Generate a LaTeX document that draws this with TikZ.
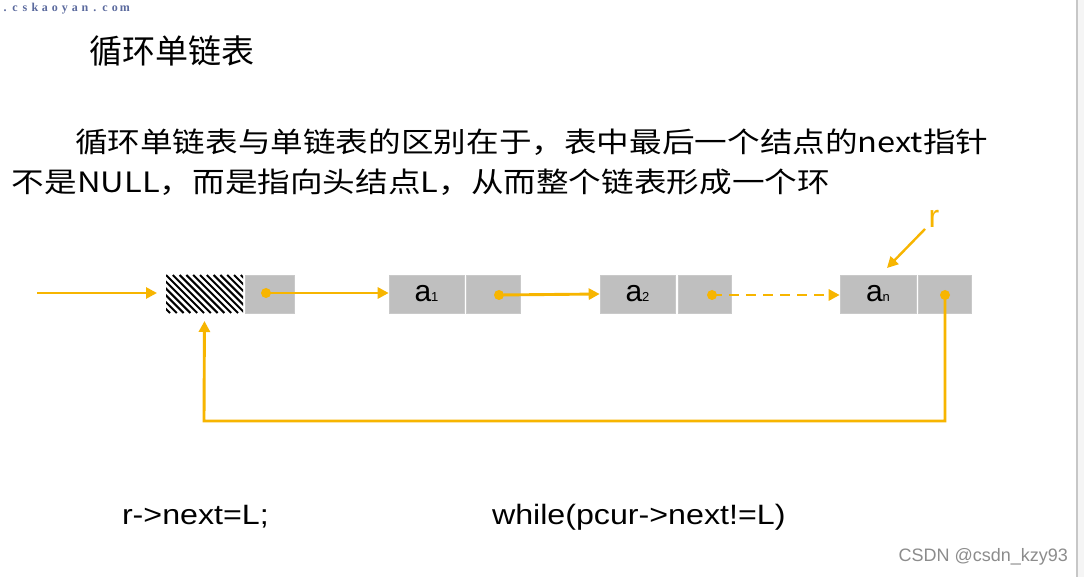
\documentclass[tikz,border=0pt]{standalone}
\usepackage{fontspec}
\setmainfont{Liberation Sans}
\newfontfamily\cjk{Noto Sans CJK SC}
\newfontfamily\webfont{Liberation Serif}
\usetikzlibrary{arrows.meta}
\definecolor{org}{HTML}{F7B500}
\definecolor{boxgray}{HTML}{BFBFBF}
\definecolor{weblue}{HTML}{5B6A9E}
\tikzset{
  gbox/.style={fill=boxgray, draw=boxgray!85!white, line width=0.6pt, inner sep=0pt, minimum height=38pt},
  link/.style={draw=org, line width=2.9pt, -{Triangle[length=11pt,width=11pt]}},
  dlink/.style={link, dash pattern=on 10pt off 7pt},
  dotst/.style={circle, fill=org, inner sep=0pt, minimum size=10pt},
  plain/.style={inner sep=0pt, outer sep=0pt},
}
\newcommand{\sm}[1]{{\fontsize{13}{13}\selectfont #1}}
\begin{document}
\begin{tikzpicture}[x=1pt,y=-1pt]
\useasboundingbox (0,0) rectangle (1084,577);
\fill[white] (0,0) rectangle (1084,577);
\fill[black!4] (1078,0) rectangle (1084,577);
\draw[black!22, line width=2pt] (1077,0) -- (1077,577);

% website
\node[plain, anchor=base west, text=weblue, font=\webfont\bfseries\fontsize{12}{12}\selectfont] (web) at (0,12)
  {\makebox[10pt]{.}\makebox[10pt]{c}\makebox[10pt]{s}\makebox[10pt]{k}\makebox[10pt]{a}\makebox[10pt]{o}\makebox[10pt]{y}\makebox[10pt]{a}\makebox[10pt]{n}\makebox[10pt]{.}\makebox[10pt]{c}\makebox[10pt]{o}\makebox[10pt]{m}};

% title
\node[plain, anchor=base west, font=\cjk\fontsize{33}{33}\selectfont] (title) at (89,64) {循环单链表};

% paragraph
\node[plain, anchor=base west, font=\cjk\fontsize{28}{28}\selectfont] (p1) at (75,153)
  {\scalebox{1.165}[1]{循环单链表与单链表的区别在于，表中最后一个结点的next指针}};
\node[plain, anchor=base west, font=\cjk\fontsize{28}{28}\selectfont] (p2) at (12,193)
  {\scalebox{1.165}[1]{不是NULL，而是指向头结点L，从而整个链表形成一个环}};

% nodes
\node[plain, minimum width=77pt, minimum height=38pt] (hd) at (204.5,294) {};
\begin{scope}
  \clip (hd.south west) rectangle (hd.north east);
  \foreach \i in {-7,...,13}
    \draw[line width=2pt] ({166+\i*6.8},275) -- ({166+\i*6.8+38},313);
\end{scope}
\node[gbox, minimum width=49pt] (hn) at (269.5,294) {};
\node[gbox, minimum width=75pt, font=\fontsize{30}{30}\selectfont] (a1) at (426.5,294) {a\sm{1}};
\node[gbox, minimum width=54pt] (a1n) at (493,294) {};
\node[gbox, minimum width=75pt, font=\fontsize{30}{30}\selectfont] (a2) at (637.5,294) {a\sm{2}};
\node[gbox, minimum width=53pt] (a2n) at (704.5,294) {};
\node[gbox, minimum width=76pt, font=\fontsize{30}{30}\selectfont] (an) at (878,294) {a\sm{n}};
\node[gbox, minimum width=53pt] (ann) at (944.5,294) {};

% dots
\node[dotst] (d0) at (266,293) {};
\node[dotst] (d1) at (499,295) {};
\node[dotst] (d2) at (712,295) {};
\node[dotst] (d3) at (945,295) {};

% incoming pointer
\coordinate (hin) at (37,293);
\draw[link, shorten >=9pt] (hin) -- (hd.west |- hin);

% links
\draw[link] (d0.center) -- (a1.west |- d0);
\draw[link] (d1.center) -- (a2.west);
\draw[dlink] (d2.center) -- (an.west |- d2);

% back link
\coordinate (bl) at (204,421);
\draw[link, shorten >=8pt] (d3.center) |- (bl) -- (hd.south);

% r pointer
\node[plain, anchor=base, text=org, font=\fontsize{32}{32}\selectfont] (r) at (934,228) {r};
\coordinate (rs) at (925,229);
\coordinate (rt) at (887,268);
\draw[link, line width=2.4pt] (rs) -- (rt);

% code
\node[plain, anchor=base west, font=\fontsize{28}{28}\selectfont] (c1) at (122,524) {\scalebox{1.15}[1]{r->next=L;}};
\node[plain, anchor=base west, font=\fontsize{28}{28}\selectfont] (c2) at (492,524) {\scalebox{1.15}[1]{while(pcur->next!=L)}};

% watermark
\node[plain, anchor=base east, text=black!45, font=\fontsize{18}{18}\selectfont] (wm) at (1068,561) {CSDN @csdn\_kzy93};
\end{tikzpicture}
\end{document}
